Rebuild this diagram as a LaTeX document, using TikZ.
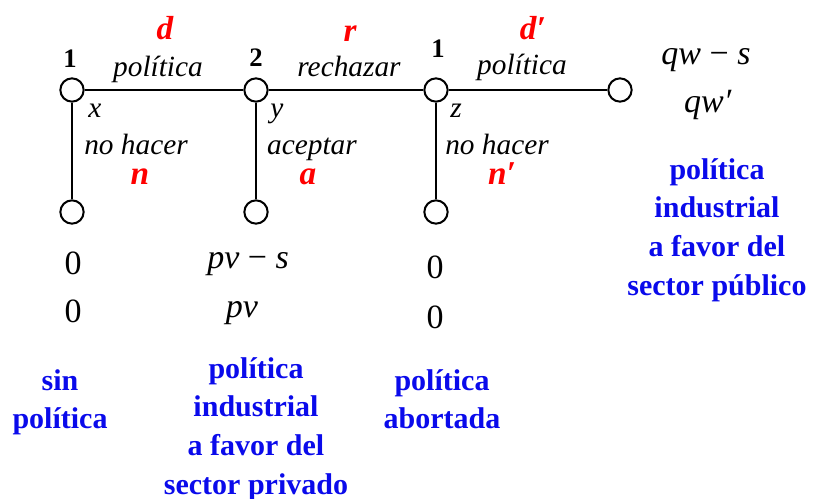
\documentclass[tikz,border=0pt]{standalone}
\usepackage{fontspec}
\setmainfont{Liberation Serif}
\definecolor{rd}{RGB}{255,0,0}
\definecolor{bl}{RGB}{10,10,235}
\begin{document}
\begin{tikzpicture}[x=0.75pt,y=-0.75pt,
  dot/.style={circle,draw,line width=1.5pt,minimum size=17.5pt,inner sep=0pt},
  edge/.style={line width=1.5pt},
  lbl/.style={anchor=base,inner sep=0pt,font=\fontsize{22}{26}\selectfont\itshape},
  pay/.style={anchor=base,inner sep=0pt,font=\fontsize{25.5}{30}\selectfont},
  act/.style={anchor=base,inner sep=0pt,text=rd,font=\fontsize{25}{30}\selectfont\bfseries\itshape},
  pl/.style={anchor=base,inner sep=0pt,font=\fontsize{20}{24}\selectfont\bfseries},
  res/.style={anchor=north,inner sep=0pt,align=center,text=bl,font=\fontsize{22.5}{29}\selectfont\bfseries}]
\useasboundingbox (0,0) rectangle (814,499);
% decision nodes
\node[dot] (A) at (72,90) {};
\node[dot] (B) at (256,90) {};
\node[dot] (C) at (436,90) {};
\node[dot] (D) at (620,90) {};
\node[dot] (A2) at (72,212) {};
\node[dot] (B2) at (256,212) {};
\node[dot] (C2) at (436,212) {};
\draw[edge] (A) -- (B);
\draw[edge] (B) -- (C);
\draw[edge] (C) -- (D);
\draw[edge] (A) -- (A2);
\draw[edge] (B) -- (B2);
\draw[edge] (C) -- (C2);
% players
\node[pl] (p1) at (70,68) {1};
\node[pl] (p2) at (256,67) {2};
\node[pl] (p3) at (438,58) {1};
% action labels
\node[act] (ad) at (165,40) {d};
\node[act] (ar) at (350,42) {r};
\node[act] (ad2) at (533,40) {d′};
\node[lbl] (l1) at (158,77) {política};
\node[lbl] (l2) at (349,77) {rechazar};
\node[lbl] (l3) at (522,75) {política};
\node[lbl] (vx) at (95,118) {x};
\node[lbl] (vy) at (277,118) {y};
\node[lbl] (vz) at (456,118) {z};
\node[lbl] (l4) at (136,155) {no hacer};
\node[lbl] (l5) at (312,155) {aceptar};
\node[lbl] (l6) at (497,155) {no hacer};
\node[act] (an) at (140,185) {n};
\node[act] (aa) at (308,185) {a};
\node[act] (an2) at (502,185) {n′};
% payoffs
\node[pay] (u1) at (73,274) {0};
\node[pay] (v1) at (73,322) {0};
\node[pay] (u2) at (248,268) {\textit{pv} − \textit{s}};
\node[pay] (v2) at (242,317) {\textit{pv}};
\node[pay] (u3) at (435,278) {0};
\node[pay] (v3) at (435,328) {0};
\node[pay] (u4) at (706,65) {\textit{qw} − \textit{s}};
\node[pay] (v4) at (708,113) {\textit{qw′}};
% results
\node[res] (r1) at (60,369) {sin\\política};
\node[res] (r2) at (256,357) {política\\industrial\\a favor del\\sector privado};
\node[res] (r3) at (442,369) {política\\abortada};
\node[res] (r4) at (717,158) {política\\industrial\\a favor del\\sector público};
\end{tikzpicture}
\end{document}
